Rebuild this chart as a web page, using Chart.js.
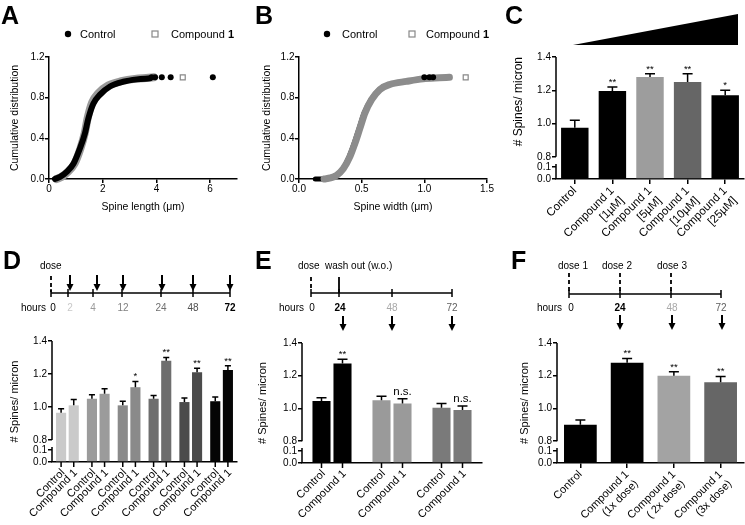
<!DOCTYPE html>
<html>
<head>
<meta charset="utf-8">
<script src="https://cdn.jsdelivr.net/npm/chart.js@4.4.1/dist/chart.umd.min.js"></script>
<style>
html, body { margin: 0; padding: 0; background: #fff; }
#page { position: relative; width: 745px; height: 525px; overflow: hidden; font-family: 'Liberation Sans', Arial, sans-serif; }
canvas { position: absolute; }
svg { position: absolute; left: 0; top: 0; }
</style>
</head>
<body>
<div id="page">
<canvas id="chartA" width="245" height="185" style="left:0;top:40px"></canvas>
<canvas id="chartB" width="250" height="185" style="left:245px;top:40px"></canvas>
<canvas id="chartC" width="250" height="215" style="left:495px;top:40px"></canvas>
<canvas id="chartD" width="245" height="205" style="left:0;top:320px"></canvas>
<canvas id="chartE" width="250" height="205" style="left:245px;top:320px"></canvas>
<canvas id="chartF" width="250" height="205" style="left:495px;top:320px"></canvas>

<svg width="745" height="525" font-family="'Liberation Sans', Arial, sans-serif">
  <!-- panel letters -->
  <g font-size="25" font-weight="bold">
    <text x="1" y="24">A</text>
    <text x="255" y="24">B</text>
    <text x="505" y="24">C</text>
    <text x="3" y="269">D</text>
    <text x="255" y="269">E</text>
    <text x="511" y="269">F</text>
  </g>
  <!-- legends A / B -->
  <g font-size="11">
    <circle cx="68" cy="34" r="3.2" fill="#000"/>
    <text x="80" y="38">Control</text>
    <rect x="152" y="31" width="6" height="6" fill="#fff" stroke="#888" stroke-width="1.2"/>
    <text x="171" y="38">Compound <tspan font-weight="bold">1</tspan></text>
    <circle cx="327" cy="34" r="3.2" fill="#000"/>
    <text x="342" y="38">Control</text>
    <rect x="409" y="31" width="6" height="6" fill="#fff" stroke="#888" stroke-width="1.2"/>
    <text x="426" y="38">Compound <tspan font-weight="bold">1</tspan></text>
  </g>
  <!-- C dose wedge -->
  <polygon points="573,45 738,14 738,45" fill="#000"/>

  <!-- D timeline -->
  <g stroke="#000" stroke-width="1.5" fill="none">
    <line x1="51" y1="276" x2="51" y2="292" stroke-dasharray="4,3" stroke-width="1.8"/>
    <line x1="51" y1="293" x2="230" y2="293"/>
    <path d="M51 289V297M68 289V297M93 289V297M122 289V297M161 289V297M193 289V297M230 289V297"/>
    <path d="M70 275V285M97 275V285M123 275V285M162 275V285M193 275V285M230 275V285" stroke-width="2"/>
  </g>
  <g fill="#000">
    <polygon points="66.5,284 73.5,284 70,291"/><polygon points="93.5,284 100.5,284 97,291"/>
    <polygon points="119.5,284 126.5,284 123,291"/><polygon points="158.5,284 165.5,284 162,291"/>
    <polygon points="189.5,284 196.5,284 193,291"/><polygon points="226.5,284 233.5,284 230,291"/>
  </g>
  <g font-size="10" text-anchor="middle">
    <text x="40" y="269" text-anchor="start">dose</text>
    <text x="21" y="311" text-anchor="start">hours</text>
    <text x="53" y="311">0</text>
    <text x="70" y="311" fill="#c8c8c8">2</text>
    <text x="93" y="311" fill="#9a9a9a">4</text>
    <text x="123" y="311" fill="#808080">12</text>
    <text x="161" y="311" fill="#707070">24</text>
    <text x="193" y="311" fill="#505050">48</text>
    <text x="230" y="311" font-weight="bold">72</text>
  </g>

  <!-- E timeline -->
  <g stroke="#000" stroke-width="1.5" fill="none">
    <line x1="311" y1="277" x2="311" y2="290" stroke-dasharray="4,3" stroke-width="1.8"/>
    <line x1="339" y1="277" x2="339" y2="293" stroke-width="1.8"/>
    <line x1="311" y1="293" x2="452" y2="293"/>
    <path d="M311 289V297M339 289V297M392 289V297M452 289V297"/>
    <path d="M343 316V325M392 316V325M452 316V325" stroke-width="2"/>
  </g>
  <g fill="#000">
    <polygon points="339.5,324 346.5,324 343,331"/><polygon points="388.5,324 395.5,324 392,331"/>
    <polygon points="448.5,324 455.5,324 452,331"/>
  </g>
  <g font-size="10" text-anchor="middle">
    <text x="298" y="269" text-anchor="start">dose</text>
    <text x="325" y="269" text-anchor="start">wash out (w.o.)</text>
    <text x="279" y="311" text-anchor="start">hours</text>
    <text x="312" y="311">0</text>
    <text x="340" y="311" font-weight="bold">24</text>
    <text x="392" y="311" fill="#a8a8a8">48</text>
    <text x="452" y="311" fill="#606060">72</text>
  </g>

  <!-- F timeline -->
  <g stroke="#000" stroke-width="1.5" fill="none">
    <path d="M569 273V292M620 273V292M671 273V292" stroke-dasharray="4,3" stroke-width="1.8"/>
    <line x1="569" y1="294" x2="721" y2="294"/>
    <path d="M569 290V298M620 290V298M671 290V298M721 290V298"/>
    <path d="M620 315V324M672 315V324M722 315V324" stroke-width="2"/>
  </g>
  <g fill="#000">
    <polygon points="616.5,323 623.5,323 620,330"/><polygon points="668.5,323 675.5,323 672,330"/>
    <polygon points="718.5,323 725.5,323 722,330"/>
  </g>
  <g font-size="10" text-anchor="middle">
    <text x="573" y="269">dose 1</text>
    <text x="617" y="269">dose 2</text>
    <text x="672" y="269">dose 3</text>
    <text x="537" y="311" text-anchor="start">hours</text>
    <text x="571" y="311">0</text>
    <text x="620" y="311" font-weight="bold">24</text>
    <text x="672" y="311" fill="#a8a8a8">48</text>
    <text x="721" y="311" fill="#606060">72</text>
  </g>
</svg>
</div>

<script>
// ---- data ----
// A: cumulative distribution of spine length (um)
const lenCtrlX = [0.22, 0.41, 0.66, 0.91, 1.15, 1.34, 1.46, 1.65, 1.90, 2.27, 2.77, 3.27, 3.76];
const lenCtrlY = [0, 0.02, 0.07, 0.15, 0.30, 0.45, 0.59, 0.74, 0.83, 0.91, 0.957, 0.98, 0.99];
const lenCtrlTailX = [3.82, 3.95, 4.20, 4.53, 6.10];
const lenCtrlTailY = [1, 1, 1, 1, 1];
const lenCmpX = [0.28, 0.46, 0.70, 0.95, 1.17, 1.33, 1.44, 1.61, 1.84, 2.20, 2.70, 3.20, 3.70, 3.90];
const lenCmpY = [0, 0.02, 0.07, 0.15, 0.30, 0.45, 0.60, 0.755, 0.845, 0.92, 0.962, 0.985, 0.995, 1.0];
const lenCmpTailX = [4.98];
const lenCmpTailY = [1];
const lenXTicks = [0, 2, 4, 6];

// B: cumulative distribution of spine width (um)
const widCtrlX = [0.13, 0.18, 0.24, 0.30, 0.35, 0.40, 0.44, 0.48, 0.52, 0.575, 0.64, 0.72, 0.85, 0.98];
const widCtrlY = [0, 0, 0.01, 0.04, 0.10, 0.22, 0.35, 0.50, 0.65, 0.78, 0.88, 0.93, 0.96, 0.985];
const widCtrlTailX = [1.00, 1.04, 1.07];
const widCtrlTailY = [1, 1, 1];
const widCmpX = [0.20, 0.25, 0.30, 0.353, 0.406, 0.446, 0.486, 0.526, 0.579, 0.645, 0.725, 0.857, 0.99, 1.12, 1.20];
const widCmpY = [0, 0.01, 0.036, 0.10, 0.22, 0.35, 0.50, 0.65, 0.78, 0.88, 0.93, 0.96, 0.985, 0.995, 1.0];
const widCmpTailX = [1.33];
const widCmpTailY = [1];
const widXTicks = [0, 0.5, 1.0, 1.5];
const cdfYTicks = [0, 0.4, 0.8, 1.2];

// spine density axis (broken between 0.1 and 0.8)
const spineTicks = [0, 0.1, 0.8, 1.0, 1.2, 1.4];
const seriesNames = ['Control', 'Compound 1'];

// C: dose response
const cLabels = ['Control', ['Compound 1', '[1\u00b5M]'], ['Compound 1', '[5\u00b5M]'], ['Compound 1', '[10\u00b5M]'], ['Compound 1', '[25\u00b5M]']];
const cMeans = [0.975, 1.195, 1.28, 1.25, 1.17];
const cSem = [0.045, 0.025, 0.02, 0.05, 0.03];
const cStars = ['', '**', '**', '**', '*'];

// D: time course (hours after dose)
const dHours = ['2', '4', '12', '24', '48', '72'];
const dCtrl = [0.965, 1.05, 1.01, 1.05, 1.03, 1.035];
const dCtrlSem = [0.025, 0.025, 0.025, 0.02, 0.025, 0.025];
const dCmp = [1.01, 1.08, 1.12, 1.28, 1.21, 1.225];
const dCmpSem = [0.035, 0.03, 0.035, 0.02, 0.025, 0.025];
const dStars = ['', '', '*', '**', '**', '**'];

// E: wash out
const eHours = ['24', '48', '72'];
const eCtrl = [1.045, 1.05, 1.005];
const eCtrlSem = [0.02, 0.025, 0.025];
const eCmp = [1.275, 1.03, 0.99];
const eCmpSem = [0.025, 0.03, 0.025];
const eMarks = ['**', 'n.s.', 'n.s.'];

// F: repeated dosing
const fLabels = ['Control', ['Compound 1', '(1x dose)'], ['Compound 1', '( 2x dose)'], ['Compound 1', '(3x dose)']];
const fMeans = [0.90, 1.28, 1.20, 1.16];
const fSem = [0.03, 0.025, 0.025, 0.035];
const fStars = ['', '**', '**', '**'];

// ---- styles ----
const FONT = "'Liberation Sans', Arial, sans-serif";
Chart.defaults.font.family = FONT;
Chart.defaults.color = '#000';
const cColors = ['#000', '#000', '#9d9d9d', '#666', '#000'];
const dColors = ['#cacaca', '#9b9b9b', '#8a8a8a', '#6e6e6e', '#4b4b4b', '#050505'];
const eColors = ['#000', '#9a9a9a', '#7a7a7a'];
const fColors = ['#000', '#000', '#a3a3a3', '#666'];

// y scale with a break between 0.1 and 0.8
const LinearScale = Chart.LinearScale || Chart.registry.getScale('linear');
const LOW = 12 / 121, GAP = 22 / 121;
class BrokenScale extends LinearScale {
  buildTicks() { return spineTicks.map(v => ({ value: v })); }
  frac(v) {
    if (v <= 0.1) return v / 0.1 * LOW;
    if (v <= 0.8) return LOW + (v - 0.1) / 0.7 * (GAP - LOW);
    return GAP + (v - 0.8) / 0.6 * (1 - GAP);
  }
  getPixelForValue(v) { return this.bottom - this.frac(v) * (this.bottom - this.top); }
  getValueForPixel(p) {
    const f = (this.bottom - p) / (this.bottom - this.top);
    if (f <= LOW) return f / LOW * 0.1;
    if (f <= GAP) return 0.1 + (f - LOW) / (GAP - LOW) * 0.7;
    return 0.8 + (f - GAP) / (1 - GAP) * 0.6;
  }
}
BrokenScale.id = 'broken';
BrokenScale.defaults = LinearScale.defaults;
Chart.register(BrokenScale);

const pts = (xs, ys) => xs.map((x, i) => ({ x: x, y: ys[i] }));

// ---- plugins ----
const errorBars = {
  id: 'errorBars',
  afterDatasetsDraw(chart) {
    const ctx = chart.ctx, ys = chart.scales.y;
    chart.data.datasets.forEach((ds, di) => {
      chart.getDatasetMeta(di).data.forEach((bar, i) => {
        const top = ys.getPixelForValue(ds.data[i] + ds.errors[i]);
        const half = Math.min(bar.width * 0.3, 5);
        ctx.save();
        ctx.strokeStyle = '#000';
        ctx.lineWidth = 1.5;
        ctx.beginPath();
        ctx.moveTo(bar.x, bar.y);
        ctx.lineTo(bar.x, top);
        ctx.moveTo(bar.x - half, top);
        ctx.lineTo(bar.x + half, top);
        ctx.stroke();
        const m = ds.marks && ds.marks[i];
        if (m) {
          ctx.fillStyle = '#000';
          ctx.textAlign = 'center';
          ctx.textBaseline = 'bottom';
          ctx.font = (m === 'n.s.' ? '11.5px ' : '9.5px ') + FONT;
          ctx.fillText(m, bar.x, top - (m === 'n.s.' ? 1 : 0));
        }
        ctx.restore();
      });
    });
  }
};

const brokenAxisLine = {
  id: 'brokenAxisLine',
  afterDraw(chart) {
    const ctx = chart.ctx, s = chart.scales.y, x = chart.chartArea.left;
    ctx.save();
    ctx.strokeStyle = '#000';
    ctx.lineWidth = 1.5;
    ctx.beginPath();
    ctx.moveTo(x, s.getPixelForValue(1.4));
    ctx.lineTo(x, s.getPixelForValue(0.8));
    ctx.moveTo(x, s.getPixelForValue(0.1) - 3);
    ctx.lineTo(x, s.bottom);
    ctx.stroke();
    ctx.restore();
  }
};

// one rotated label and tick under each bar (grouped charts)
const perBarLabels = {
  id: 'perBarLabels',
  afterDraw(chart) {
    const ctx = chart.ctx, base = chart.chartArea.bottom;
    ctx.save();
    ctx.strokeStyle = '#000';
    ctx.fillStyle = '#000';
    ctx.lineWidth = 1.5;
    ctx.font = '11px ' + FONT;
    ctx.textAlign = 'right';
    ctx.textBaseline = 'middle';
    chart.data.datasets.forEach((ds, di) => {
      chart.getDatasetMeta(di).data.forEach(bar => {
        ctx.beginPath();
        ctx.moveTo(bar.x, base);
        ctx.lineTo(bar.x, base + 5);
        ctx.stroke();
        ctx.save();
        ctx.translate(bar.x + 2, base + 9);
        ctx.rotate(-Math.PI / 4);
        ctx.fillText(ds.label, 0, 0);
        ctx.restore();
      });
    });
    ctx.restore();
  }
};

// ---- cumulative distribution charts ----
function cdfChart(id, g, xMax, xTicks, xFmt, xTitle, datasets) {
  return new Chart(document.getElementById(id), {
    type: 'scatter',
    data: { datasets: datasets },
    options: {
      responsive: false,
      animation: false,
      layout: { padding: { top: g.top, right: g.right, left: 0, bottom: 0 } },
      plugins: { legend: { display: false }, tooltip: { enabled: false } },
      scales: {
        x: {
          type: 'linear', min: 0, max: xMax,
          afterFit: s => { s.height = g.xh; },
          afterBuildTicks: s => { s.ticks = xTicks.map(v => ({ value: v })); },
          ticks: { callback: xFmt, font: { size: 10 }, padding: 0.5, maxRotation: 0 },
          grid: { drawOnChartArea: false, tickLength: 4, color: '#000', lineWidth: 1.5 },
          border: { color: '#000', width: 1.5 },
          title: { display: true, text: xTitle, font: { size: 10.5 }, padding: { top: 0, bottom: 12 } }
        },
        y: {
          type: 'linear', min: 0, max: 1.2,
          afterFit: s => { s.width = g.yw; },
          afterBuildTicks: s => { s.ticks = cdfYTicks.map(v => ({ value: v })); },
          ticks: { callback: v => v.toFixed(1), font: { size: 10 }, padding: 0.5 },
          grid: { drawOnChartArea: false, tickLength: 4, color: '#000', lineWidth: 1.5 },
          border: { color: '#000', width: 1.5 },
          title: { display: true, text: 'Cumulative distribution', font: { size: 10.5 }, padding: { top: g.ytp, bottom: 0 } }
        }
      }
    }
  });
}

const curve = (data, color, w) => ({
  data: data, showLine: true, borderColor: color, backgroundColor: color, borderWidth: w,
  pointRadius: 0, cubicInterpolationMode: 'monotone', borderCapStyle: 'round', borderJoinStyle: 'round', clip: false
});
const dots = data => ({ data: data, pointStyle: 'circle', pointRadius: 3, backgroundColor: '#000', borderColor: '#000', borderWidth: 0, clip: false });
const squares = data => ({ data: data, pointStyle: 'rect', pointRadius: 3.5, backgroundColor: '#fff', borderColor: '#888', borderWidth: 1.2, clip: false });

cdfChart('chartA', { top: 17, right: 8, xh: 46, yw: 49, ytp: 9 }, 7, lenXTicks, v => String(v), 'Spine length (\u03bcm)', [
  dots(pts(lenCtrlTailX, lenCtrlTailY)),
  curve(pts(lenCtrlX, lenCtrlY), '#000', 6),
  squares(pts(lenCmpTailX, lenCmpTailY)),
  curve(pts(lenCmpX, lenCmpY), '#9a9a9a', 8)
]);

cdfChart('chartB', { top: 17, right: 8, xh: 46, yw: 54, ytp: 16 }, 1.5, widXTicks, v => v.toFixed(1), 'Spine width (\u03bcm)', [
  dots(pts(widCtrlTailX, widCtrlTailY)),
  squares(pts(widCmpTailX, widCmpTailY)),
  curve(pts(widCmpX, widCmpY), '#8c8c8c', 7),
  curve(pts(widCtrlX, widCtrlY), '#000', 5)
]);

// ---- spine density bar charts ----
function spineChart(id, g, labels, datasets, tickLabels, extraPlugins, titleAlign) {
  return new Chart(document.getElementById(id), {
    type: 'bar',
    data: { labels: labels, datasets: datasets },
    options: {
      responsive: false,
      animation: false,
      layout: { padding: { top: g.top, right: g.right, left: 0, bottom: 0 } },
      plugins: { legend: { display: false }, tooltip: { enabled: false } },
      scales: {
        x: {
          type: 'category',
          afterFit: s => { s.height = g.xh; },
          grid: { drawOnChartArea: false, offset: false, drawTicks: tickLabels, tickLength: 5, color: '#000', lineWidth: 1.5 },
          border: { color: '#000', width: 1.5 },
          ticks: { display: tickLabels, minRotation: 45, maxRotation: 45, autoSkip: false, font: { size: g.lf || 11 }, padding: 0 }
        },
        y: {
          type: 'broken', min: 0, max: 1.4,
          afterFit: s => { s.width = g.yw; },
          ticks: { callback: v => Number(v).toFixed(1), font: { size: 10 }, padding: 1 },
          grid: { drawOnChartArea: false, tickLength: 4, color: '#000', lineWidth: 1.5 },
          border: { display: false },
          title: { display: true, text: '# Spines/ micron', font: { size: g.tf || 11 }, align: titleAlign || 'center', padding: { top: g.ytp, bottom: 0 } }
        }
      }
    },
    plugins: [errorBars, brokenAxisLine].concat(extraPlugins)
  });
}

spineChart('chartC', { top: 17, right: 1, xh: 76, yw: 61, ytp: 16, lf: 11.5, tf: 12 }, cLabels, [{
  data: cMeans, errors: cSem, marks: cStars, backgroundColor: cColors,
  barPercentage: 0.73, categoryPercentage: 1
}], true, [], 'end');

spineChart('chartD', { top: 21, right: 8, xh: 63, yw: 52, ytp: 8.5 }, dHours, [
  { label: seriesNames[0], data: dCtrl, errors: dCtrlSem, backgroundColor: dColors, barPercentage: 0.8, categoryPercentage: 0.82 },
  { label: seriesNames[1], data: dCmp, errors: dCmpSem, marks: dStars, backgroundColor: dColors, barPercentage: 0.8, categoryPercentage: 0.82 }
], false, [perBarLabels]);

spineChart('chartE', { top: 23, right: 13, xh: 62, yw: 57, ytp: 11.5 }, eHours, [
  { label: seriesNames[0], data: eCtrl, errors: eCtrlSem, backgroundColor: eColors, barPercentage: 0.86, categoryPercentage: 0.7 },
  { label: seriesNames[1], data: eCmp, errors: eCmpSem, marks: eMarks, backgroundColor: eColors, barPercentage: 0.86, categoryPercentage: 0.7 }
], false, [perBarLabels]);

spineChart('chartF', { top: 23, right: 1, xh: 62, yw: 62, ytp: 23.5 }, fLabels, [{
  data: fMeans, errors: fSem, marks: fStars, backgroundColor: fColors,
  barPercentage: 0.7, categoryPercentage: 1
}], true, []);
</script>
</body>
</html>
